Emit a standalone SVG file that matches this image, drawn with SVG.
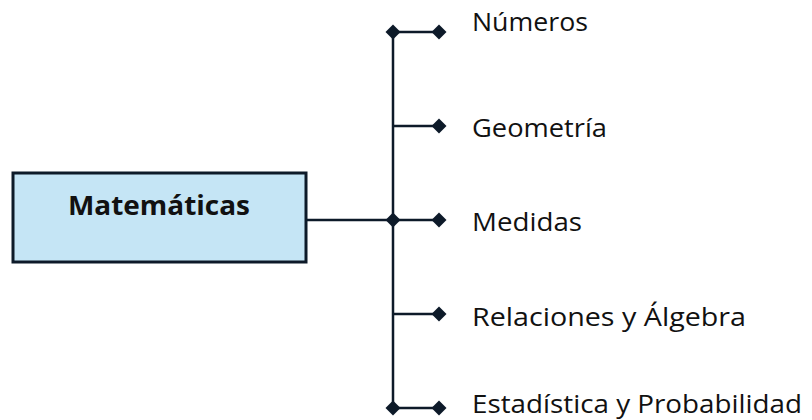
<svg xmlns="http://www.w3.org/2000/svg" width="812" height="420" viewBox="0 0 812 420">
<defs>
<style>
.ln{stroke:#0d1a29;stroke-width:2.5;fill:none}
.dm{fill:#0d1a29}
.lbl{font-family:"Open Sans","Noto Sans","Liberation Sans",sans-serif;font-size:26px;fill:#111}
.ttl{font-family:"Open Sans","Noto Sans","Liberation Sans",sans-serif;font-size:26px;font-weight:bold;fill:#111}
</style>
<path id="d" d="M0,-7.5 L7.5,0 L0,7.5 L-7.5,0 Z"/>
</defs>
<rect width="812" height="420" fill="#fff"/>
<g id="connectors">
<path class="ln" d="M306,220 H439"/>
<path class="ln" d="M393,32 V408"/>
<path class="ln" d="M393,32 H439 M393,126 H439 M393,314 H439 M393,408 H439"/>
<use href="#d" class="dm" x="393" y="32"/>
<use href="#d" class="dm" x="393" y="220"/>
<use href="#d" class="dm" x="393" y="408"/>
<use href="#d" class="dm" x="439" y="32"/>
<use href="#d" class="dm" x="439" y="126"/>
<use href="#d" class="dm" x="439" y="220"/>
<use href="#d" class="dm" x="439" y="314"/>
<use href="#d" class="dm" x="439" y="408"/>
</g>
<g id="matematicas">
<rect x="13" y="173" width="293" height="89" fill="#c5e5f5" stroke="#0d1a29" stroke-width="3"/>
<text class="ttl" x="159" y="215" text-anchor="middle" textLength="182" lengthAdjust="spacingAndGlyphs">Matemáticas</text>
</g>
<g id="numeros"><text class="lbl" x="472" y="31" textLength="116" lengthAdjust="spacingAndGlyphs">Números</text></g>
<g id="geometria"><text class="lbl" x="472" y="137" textLength="135" lengthAdjust="spacingAndGlyphs">Geometría</text></g>
<g id="medidas"><text class="lbl" x="472" y="231" textLength="110" lengthAdjust="spacingAndGlyphs">Medidas</text></g>
<g id="relaciones"><text class="lbl" x="472" y="326" textLength="274" lengthAdjust="spacingAndGlyphs">Relaciones y Álgebra</text></g>
<g id="estadistica"><text class="lbl" x="472" y="413" textLength="330" lengthAdjust="spacingAndGlyphs">Estadística y Probabilidad</text></g>
</svg>
